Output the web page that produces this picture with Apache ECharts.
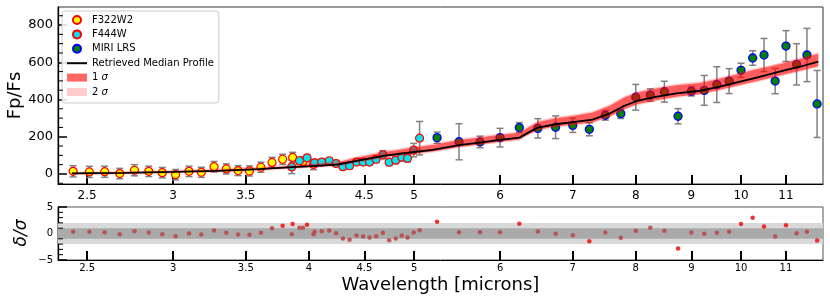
<!DOCTYPE html>
<html><head><meta charset="utf-8">
<script src="https://cdn.jsdelivr.net/npm/echarts@6/dist/echarts.min.js"></script>
<style>html,body{margin:0;padding:0;background:#fff}#c{width:830px;height:302px}</style>
</head><body><div id="c"></div>
<script>
// ---------- data ----------
const xTickLabels = [2.5, 3, 3.5, 4, 4.5, 5, 6, 7, 8, 9, 10, 11];
const yTopTicks = [0, 200, 400, 600, 800];
const yTopMinor = [-50, 50, 100, 150, 250, 300, 350, 450, 500, 550, 650, 700, 750, 850];
const yResTicks = [-5, 0, 5];
const yResMinor = [-4, -3, -2, -1, 1, 2, 3, 4];
const sigmaBands = [2, 1];

const f322Wl  = [2.427, 2.512, 2.595, 2.679, 2.764, 2.849, 2.932, 3.016, 3.103, 3.185, 3.272, 3.358, 3.443, 3.527, 3.614, 3.700, 3.784, 3.865, 3.951, 4.040];
const f322Val = [14, 11, 12, 2, 20, 14, 7, -4, 14, 9, 39, 27, 18, 16, 36, 62, 79, 89, 66, 51];
const f322Err = [30, 30, 30, 28, 30, 28, 28, 28, 28, 27, 28, 27, 27, 27, 27, 27, 27, 27, 27, 28];
const f322Res = [0.32, 0.32, 0.25, -0.13, 0.44, 0.2, -0.13, -0.5, 0.0, -0.2, 0.57, 0.13, -0.2, -0.25, 0.13, 1.0, 1.45, 1.77, 1.08, -0.13];

const f444Wl  = [3.858, 3.922, 3.985, 4.049, 4.111, 4.177, 4.238, 4.300, 4.361, 4.426, 4.488, 4.550, 4.614, 4.680, 4.743, 4.809, 4.871, 4.931, 4.996, 5.059];
const f444Val = [38, 71, 86, 59, 64, 71, 56, 39, 44, 64, 64, 64, 79, 103, 63, 74, 90, 84, 128, 192];
const f444Err = [36, 18, 18, 18, 16, 16, 16, 16, 16, 16, 16, 16, 18, 22, 18, 18, 20, 20, 36, 90];
const f444Res = [-0.13, 1.08, 1.64, 0.32, 0.44, 0.57, 0.06, -0.95, -1.2, -0.38, -0.57, -0.76, -0.5, 0.13, -1.27, -0.95, -0.38, -0.76, 0.2, 0.63];

const miriWl  = [5.25, 5.5, 5.75, 6.0, 6.25, 6.5, 6.75, 7.0, 7.25, 7.5, 7.75, 8.0, 8.25, 8.5, 8.75, 9.0, 9.25, 9.5, 9.75, 10.0, 10.25, 10.5, 10.75, 11.0, 11.25, 11.5, 11.75];
const miriVal = [195, 173, 172, 195, 249, 245, 251, 261, 240, 315, 324, 412, 424, 442, 310, 444, 449, 480, 499, 557, 623, 639, 499, 687, 589, 639, 376];
const miriErr = [30, 97, 31, 50, 27, 52, 61, 38, 35, 26, 26, 69, 33, 56, 41, 25, 80, 96, 67, 38, 39, 89, 68, 83, 111, 143, 180];
const miriRes = [2.22, 0.25, 0.25, 0.25, 1.84, 0.38, -0.06, -0.32, -1.46, 0.19, -0.82, 0.51, 1.08, 0.51, -2.85, 0.19, -0.06, 0.13, 0.32, 1.77, 2.98, 1.33, -0.57, 1.58, 0.06, 0.32, -1.33];

const modelWl  = [2.42, 2.70, 3.00, 3.30, 3.60, 3.90, 4.10, 4.25, 4.40, 4.70, 5.00, 5.20, 5.50, 5.77, 6.00, 6.25, 6.37, 6.50, 6.75, 7.00, 7.30, 7.58, 7.80, 8.02, 8.37, 8.72, 9.17, 9.56, 9.98, 10.27, 10.57, 10.94, 11.33, 11.78];
const modelMed = [3, 6, 11, 17, 26, 38, 45, 50, 68, 98, 118, 129, 155, 170, 183, 195, 222, 249, 267, 278, 292, 326, 365, 392, 415, 433, 447, 469, 496, 514, 532, 555, 576, 603];
const sig1Hi   = [6, 9, 15, 22, 32, 46, 55, 62, 84, 118, 142, 156, 182, 197, 210, 222, 250, 279, 299, 312, 330, 368, 410, 437, 460, 477, 489, 511, 540, 558, 574, 595, 618, 646];
const sig1Lo   = [0, 3, 8, 14, 22, 34, 40, 45, 62, 91, 110, 120, 145, 160, 173, 185, 212, 238, 255, 265, 278, 310, 348, 374, 397, 415, 430, 452, 478, 495, 512, 534, 554, 579];
const sig2Hi   = [12, 15, 21, 29, 40, 54, 63, 70, 92, 126, 150, 164, 190, 205, 218, 230, 258, 287, 307, 320, 338, 376, 418, 445, 468, 485, 497, 519, 548, 566, 582, 603, 626, 654];
const sig2Lo   = [-6, -3, 2, 8, 16, 28, 34, 39, 56, 85, 104, 114, 139, 154, 167, 179, 206, 232, 249, 259, 272, 304, 342, 368, 391, 409, 424, 446, 472, 489, 506, 528, 548, 573];

// ---------- build ----------
const L = Math.log10;
const FONT = 'DejaVu Sans';
const xMin = L(2.3504), xMax = L(11.898);
const xTickVals = xTickLabels.map(L);
const fmtX = v => String(Math.round(Math.pow(10, v) * 10) / 10);

const pts = (wl, v) => wl.map((w, i) => [L(w), v[i]]);
const errs = (wl, v, e) => wl.map((w, i) => [L(w), v[i] - e[i], v[i] + e[i]]);

function errRender(params, api) {
  const x = api.value(0);
  const p1 = api.coord([x, api.value(2)]);
  const p2 = api.coord([x, api.value(1)]);
  const w = 3.5, st = {stroke: '#808080', lineWidth: 1.5};
  return {type: 'group', children: [
    {type: 'line', shape: {x1: p1[0], y1: p1[1], x2: p2[0], y2: p2[1]}, style: st},
    {type: 'line', shape: {x1: p1[0] - w, y1: p1[1], x2: p1[0] + w, y2: p1[1]}, style: st},
    {type: 'line', shape: {x1: p2[0] - w, y1: p2[1], x2: p2[0] + w, y2: p2[1]}, style: st}
  ]};
}
function bandRender(lo, hi, fill) {
  return function (params, api) {
    const p = [];
    for (let i = 0; i < modelWl.length; i++) p.push(api.coord([L(modelWl[i]), hi[i]]));
    for (let i = modelWl.length - 1; i >= 0; i--) p.push(api.coord([L(modelWl[i]), lo[i]]));
    return {type: 'polygon', shape: {points: p}, style: {fill: fill}};
  };
}
function resBandRender(params, api) {
  const s = api.value(0);
  const a = api.coord([xMin, s]), b = api.coord([xMax, -s]);
  return {type: 'rect', shape: {x: a[0], y: a[1], width: b[0] - a[0], height: b[1] - a[1]},
          style: {fill: s >= 2 ? '#d9d9d9' : '#aaaaaa'}};
}
// minor y ticks, placed through the y scale
function minorTickRender(params, api) {
  const p = api.coord([xMin, api.value(0)]);
  return {type: 'line', shape: {x1: p[0], y1: p[1], x2: p[0] + 5, y2: p[1]},
          style: {stroke: '#000', lineWidth: 1}};
}

function xAxis(gi, fs, margin) {
  return {type: 'value', gridIndex: gi, min: xMin, max: xMax,
    axisLine: {show: true, onZero: false, lineStyle: {color: '#000', width: 1}},
    axisTick: {show: true, inside: true, length: 9, customValues: xTickVals, lineStyle: {color: '#000', width: 2}},
    axisLabel: {show: true, customValues: xTickVals, formatter: fmtX, fontSize: fs, color: '#000', fontFamily: FONT, margin: margin},
    splitLine: {show: false}};
}
function yAxis(gi, min, max, ticks, fs, fmt) {
  return {type: 'value', gridIndex: gi, min: min, max: max, position: 'left',
    axisLine: {show: true, onZero: false, lineStyle: {color: '#000', width: 1.3}},
    axisTick: {show: true, inside: true, length: 9, customValues: ticks, lineStyle: {color: '#000', width: 1.5}},
    axisLabel: {show: true, customValues: ticks, fontSize: fs, color: '#000', fontFamily: FONT, margin: 5, formatter: fmt},
    splitLine: {show: false}};
}

const resAll = pts(f322Wl, f322Res).concat(pts(f444Wl, f444Res), pts(miriWl, miriRes));

const option = {
  animation: false,
  backgroundColor: '#fff',
  textStyle: {fontFamily: FONT},
  grid: [
    {left: 58, right: 7, top: 7, height: 177, show: true, borderColor: '#333', borderWidth: 1},
    {left: 58, right: 7, top: 207, height: 53, show: true, borderColor: '#555', borderWidth: 1}
  ],
  xAxis: [xAxis(0, 12, 6), xAxis(1, 10, 3)],
  yAxis: [
    yAxis(0, -54, 897, yTopTicks, 13, v => String(v)),
    yAxis(1, -5, 5, yResTicks, 10, v => (v < 0 ? '\u2212' + Math.abs(v) : String(v)))
  ],
  legend: {
    orient: 'vertical', left: 62, top: 11,
    padding: [4, 5, 6, 5],
    itemWidth: 20, itemHeight: 8, itemGap: 4.4,
    backgroundColor: 'rgba(255,255,255,0.85)', borderColor: '#cccccc', borderWidth: 1, borderRadius: 3,
    textStyle: {fontSize: 10, color: '#000', fontFamily: FONT,
      rich: {i: {fontStyle: 'italic', fontSize: 10, fontFamily: FONT, color: '#000'}}},
    formatter: n => n.replace('\u03c3', '{i|\u03c3}'),
    data: [
      {name: 'F322W2', icon: 'circle'},
      {name: 'F444W', icon: 'circle'},
      {name: 'MIRI LRS', icon: 'circle'},
      {name: 'Retrieved Median Profile', icon: 'path://M0,0L40,0L40,4L0,4Z'},
      {name: '1 \u03c3', icon: 'rect'},
      {name: '2 \u03c3', icon: 'rect'}
    ]
  },
  graphic: [
    {type: 'text', x: 15, y: 95.5, rotation: Math.PI / 2,
     style: {text: 'Fp/Fs', fontSize: 18, fontFamily: FONT, fill: '#000', align: 'center', verticalAlign: 'middle'}},
    {type: 'text', x: 22, y: 233, rotation: Math.PI / 2,
     style: {text: '\u03b4/\u03c3', fontSize: 17, fontStyle: 'italic', fontFamily: FONT, fill: '#000', align: 'center', verticalAlign: 'middle'}},
    {type: 'text', x: 440.5, y: 285,
     style: {text: 'Wavelength [microns]', fontSize: 18, fontFamily: FONT, fill: '#000', align: 'center', verticalAlign: 'middle'}}
  ],
  series: [
    {type: 'custom', name: 'errF322', xAxisIndex: 0, yAxisIndex: 0, z: 2, renderItem: errRender,
     encode: {x: 0, y: [1, 2]}, data: errs(f322Wl, f322Val, f322Err), silent: true},
    {type: 'custom', name: 'errF444', xAxisIndex: 0, yAxisIndex: 0, z: 2, renderItem: errRender,
     encode: {x: 0, y: [1, 2]}, data: errs(f444Wl, f444Val, f444Err), silent: true},
    {type: 'custom', name: 'errMIRI', xAxisIndex: 0, yAxisIndex: 0, z: 2, renderItem: errRender,
     encode: {x: 0, y: [1, 2]}, data: errs(miriWl, miriVal, miriErr), silent: true},
    {type: 'scatter', name: 'F322W2', xAxisIndex: 0, yAxisIndex: 0, z: 3, symbolSize: 8,
     itemStyle: {color: '#ffff00', borderColor: '#ff0000', borderWidth: 1.2, opacity: 1},
     data: pts(f322Wl, f322Val)},
    {type: 'scatter', name: 'F444W', xAxisIndex: 0, yAxisIndex: 0, z: 3, symbolSize: 8,
     itemStyle: {color: '#00e5ee', borderColor: '#ff0000', borderWidth: 1.2, opacity: 1},
     data: pts(f444Wl, f444Val)},
    {type: 'scatter', name: 'MIRI LRS', xAxisIndex: 0, yAxisIndex: 0, z: 3, symbolSize: 8,
     itemStyle: {color: '#008000', borderColor: '#0000ff', borderWidth: 1.3, opacity: 1},
     data: pts(miriWl, miriVal)},
    {type: 'custom', name: '2 \u03c3', xAxisIndex: 0, yAxisIndex: 0, z: 4, silent: true,
     itemStyle: {color: 'rgba(255,0,0,0.2)'},
     renderItem: bandRender(sig2Lo, sig2Hi, 'rgba(255,0,0,0.2)'), data: [[L(modelWl[0]), sig2Lo[0]]]},
    {type: 'custom', name: '1 \u03c3', xAxisIndex: 0, yAxisIndex: 0, z: 5, silent: true,
     itemStyle: {color: 'rgba(255,0,0,0.6)'},
     renderItem: bandRender(sig1Lo, sig1Hi, 'rgba(255,0,0,0.55)'), data: [[L(modelWl[0]), sig1Lo[0]]]},
    {type: 'line', name: 'Retrieved Median Profile', xAxisIndex: 0, yAxisIndex: 0, z: 6,
     showSymbol: false, symbol: 'none', color: '#000', itemStyle: {color: '#000'},
     lineStyle: {color: '#000', width: 1.8}, data: pts(modelWl, modelMed)},
    {type: 'custom', name: 'minorTop', xAxisIndex: 0, yAxisIndex: 0, z: 7, silent: true,
     renderItem: minorTickRender, encode: {y: 0}, data: yTopMinor.map(v => [v])},
    {type: 'custom', name: 'resBands', xAxisIndex: 1, yAxisIndex: 1, z: 1, silent: true,
     renderItem: resBandRender, encode: {y: 0}, data: sigmaBands.map(s => [s])},
    {type: 'scatter', name: 'residuals', xAxisIndex: 1, yAxisIndex: 1, z: 3, symbolSize: 4.5,
     itemStyle: {color: p => Math.abs(p.value[1]) > 1.3 ? '#ee1c1c' : '#b84a4a', opacity: 0.9},
     data: resAll},
    {type: 'custom', name: 'minorRes', xAxisIndex: 1, yAxisIndex: 1, z: 7, silent: true,
     renderItem: minorTickRender, encode: {y: 0}, data: yResMinor.map(v => [v])}
  ]
};

const chart = echarts.init(document.getElementById('c'), null, {renderer: 'canvas'});
chart.setOption(option);
</script>
</body></html>
